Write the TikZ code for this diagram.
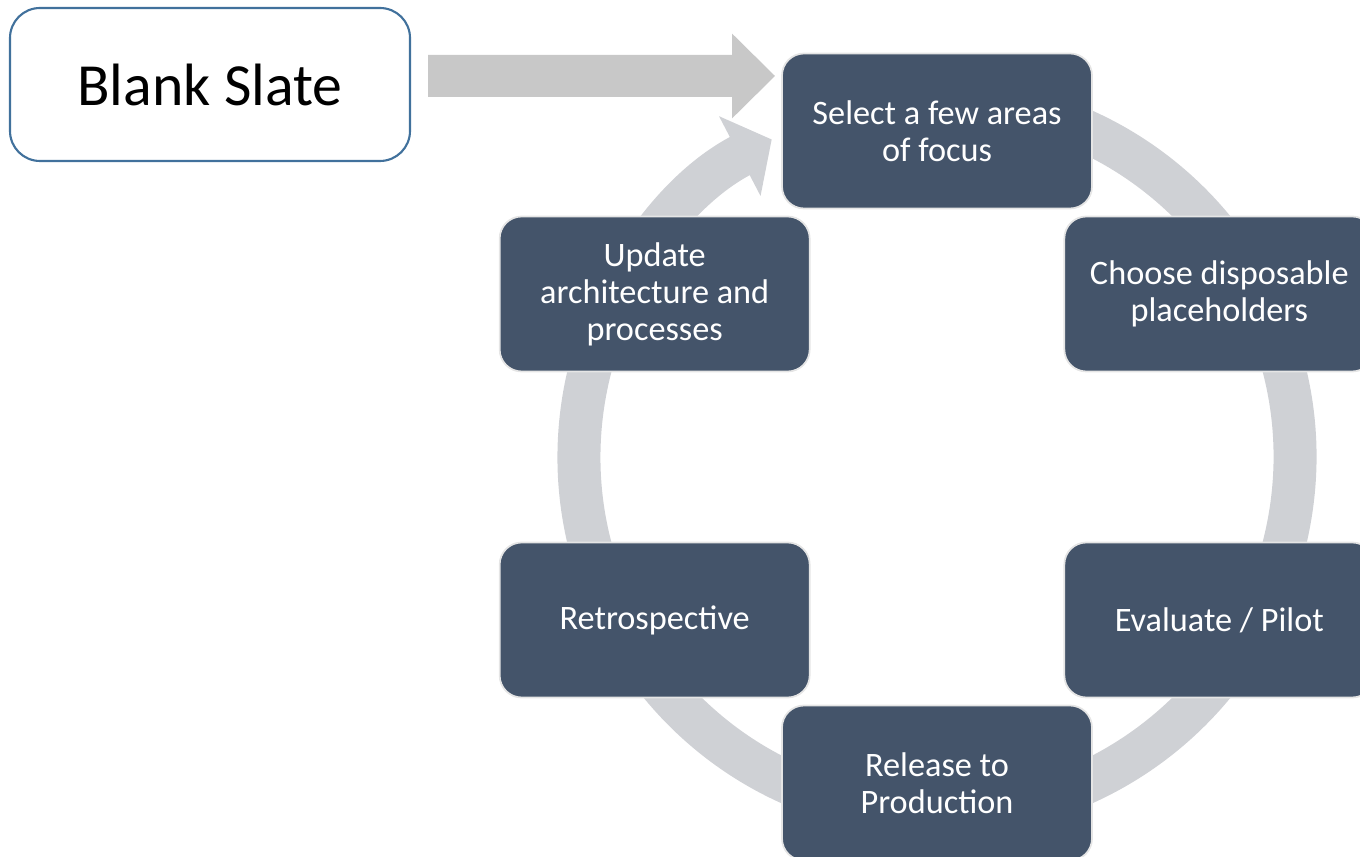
\documentclass[tikz,border=0pt]{standalone}
\usepackage{fontspec}
\setmainfont{Carlito}
\usepackage{tikz}
\usetikzlibrary{arrows.meta,calc}
\definecolor{slate}{RGB}{68,84,106}
\definecolor{ringgray}{RGB}{207,209,213}
\definecolor{arrowgray}{RGB}{200,200,200}
\definecolor{startblue}{RGB}{65,113,156}
\tikzset{
  stage/.style={draw=gray!20, line width=1pt, fill=slate, rounded corners=0.44cm,
    minimum width=6.2cm, minimum height=3.1cm, text width=5.9cm, align=flush center,
    text=white, font=\fontsize{19.5}{21}\selectfont},
  startbox/.style={draw=startblue, line width=1.2pt, fill=white, rounded corners=0.6cm,
    minimum width=8cm, minimum height=3.06cm, font=\fontsize{34}{40}\selectfont}
}

\begin{document}
\begin{tikzpicture}
    \useasboundingbox (0,0) rectangle (27.2,17.12);
    % centre of the cycle
    \coordinate (c) at (18.74,7.98);
    % the grey ring with its head
    \draw[ringgray, line width=0.86cm, -{Triangle[width=1.76cm,length=0.72cm]}]
      ($(c)+(80:7.16)$) arc (80:-242.5:7.16);
    % the steps
    \node[startbox] (blank) at (4.2,15.43) {Blank Slate};
    \node[stage] (focus) at ($(c)+(90:6.52)$) {Select a few areas\\of focus};
    \node[stage] (choose) at ($(c)+(30:6.52)$) {Choose disposable\\placeholders};
    \node[stage] (pilot) at ($(c)+(-30:6.52)$) {Evaluate / Pilot};
    \node[stage] (release) at ($(c)+(-90:6.52)$) {Release to\\Production};
    \node[stage] (retro) at ($(c)+(-150:6.52)$) {Retrospective};
    \node[stage] (update) at ($(c)+(150:6.52)$) {Update\\architecture and\\processes};
    % entry arrow
    \draw[arrowgray, line width=0.84cm, -{Triangle[width=1.64cm,length=0.86cm]}]
      ($(blank.east)+(0.34,0.17)$) -- ($(focus.west)+(-0.12,1.1)$);
\end{tikzpicture}
\end{document}
